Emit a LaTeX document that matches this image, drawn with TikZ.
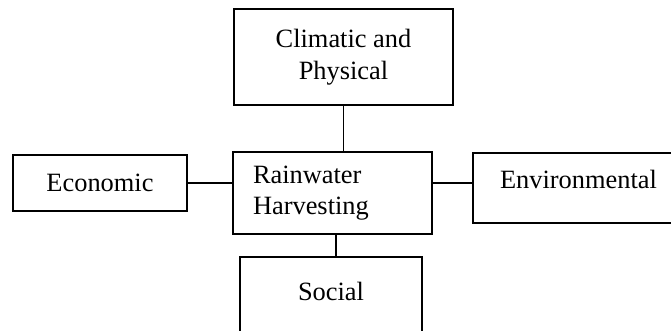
\documentclass[tikz,border=0pt]{standalone}
\usepackage{fontspec}
\setmainfont{Liberation Serif}
\begin{document}
\begin{tikzpicture}[x=1pt,y=-1pt,
    factor/.style={draw,line width=1.3pt,inner sep=0pt,align=center,
        font=\fontsize{26.4}{32}\selectfont},
    link/.style={line width=1.3pt}]
    \useasboundingbox (0,0) rectangle (671,330);
    \clip (0,0) rectangle (671,330);
    \node (clim) [factor,minimum width=219pt,minimum height=96pt] at (343.5,57) {Climatic and\\Physical};
    \node (rwh) [factor,minimum width=199pt,minimum height=82pt,text width=159pt,align=left,
        font=\fontsize{26.4}{31}\selectfont] at (332.5,193) {Rainwater\\Harvesting};
    \node (eco) [factor,minimum width=174pt,minimum height=56pt] at (100,183) {Economic};
    \node (env) [factor,minimum width=211pt,minimum height=70pt,text depth=18pt] at (578.5,188) {Environmental};
    \node (soc) [factor,minimum width=182pt,minimum height=86pt,text depth=18pt] at (331,300) {Social};
    \draw [link] (clim.south) -- (clim.south |- rwh.north);
    \draw [link] ([xshift=3.5pt]rwh.south) -- ([xshift=3.5pt]rwh.south |- soc.north);
    \draw [link] (eco.east) -- (eco.east -| rwh.west);
    \draw [link] (eco.east -| rwh.east) -- (eco.east -| env.west);
\end{tikzpicture}
\end{document}
